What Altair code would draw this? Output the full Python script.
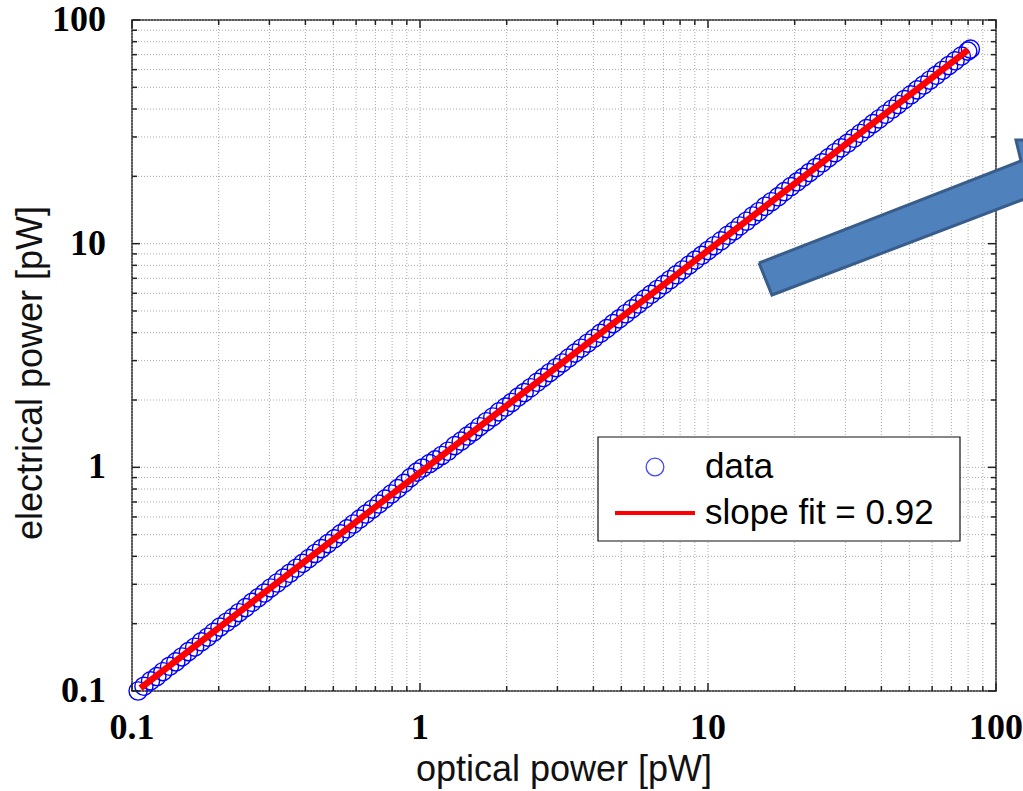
import altair as alt
import pandas as pd

# measured points (optical power, electrical power) in pW
x_data = [0.105, 0.110, 0.116, 0.122, 0.128, 0.135, 0.142, 0.149, 0.157, 0.165,
          0.174, 0.183, 0.192, 0.202, 0.213, 0.224, 0.235, 0.248, 0.261, 0.274,
          0.288, 0.303, 0.319, 0.336, 0.353, 0.372, 0.391, 0.411, 0.433, 0.455,
          0.479, 0.504, 0.530, 0.558, 0.587, 0.617, 0.649, 0.683, 0.719, 0.756,
          0.795, 0.837, 0.880, 0.926, 0.974, 1.02, 1.08, 1.13, 1.19, 1.25,
          1.32, 1.39, 1.46, 1.53, 1.61, 1.70, 1.79, 1.88, 1.98, 2.08,
          2.19, 2.30, 2.42, 2.55, 2.68, 2.82, 2.97, 3.12, 3.28, 3.45,
          3.63, 3.82, 4.02, 4.23, 4.45, 4.68, 4.92, 5.18, 5.45, 5.73,
          6.03, 6.34, 6.67, 7.02, 7.38, 7.77, 8.17, 8.59, 9.04, 9.51,
          10.0, 10.5, 11.1, 11.7, 12.3, 12.9, 13.6, 14.3, 15.0, 15.8,
          16.6, 17.5, 18.4, 19.4, 20.4, 21.4, 22.5, 23.7, 24.9, 26.2,
          27.6, 29.0, 30.5, 32.1, 33.8, 35.5, 37.4, 39.3, 41.3, 43.5,
          45.7, 48.1, 50.6, 53.2, 56.0, 58.9, 62.0, 65.2, 68.5, 72.1,
          75.8, 79.8, 81.5]
y_data = [0.100, 0.105, 0.111, 0.116, 0.122, 0.129, 0.135, 0.142, 0.150, 0.157,
          0.166, 0.174, 0.183, 0.193, 0.203, 0.213, 0.224, 0.236, 0.249, 0.261,
          0.274, 0.289, 0.304, 0.320, 0.336, 0.354, 0.372, 0.391, 0.412, 0.433,
          0.456, 0.479, 0.504, 0.531, 0.558, 0.587, 0.618, 0.650, 0.685, 0.721,
          0.760, 0.803, 0.848, 0.900, 0.952, 0.993, 1.04, 1.08, 1.13, 1.18,
          1.25, 1.31, 1.38, 1.44, 1.52, 1.60, 1.68, 1.77, 1.86, 1.95,
          2.06, 2.16, 2.27, 2.40, 2.52, 2.65, 2.79, 2.93, 3.08, 3.24,
          3.41, 3.59, 3.77, 3.97, 4.17, 4.39, 4.61, 4.86, 5.11, 5.37,
          5.65, 5.94, 6.24, 6.56, 6.90, 7.26, 7.63, 8.02, 8.44, 8.87,
          9.32, 9.79, 10.3, 10.9, 11.4, 12.0, 12.6, 13.3, 13.9, 14.7,
          15.4, 16.2, 17.1, 18.0, 18.9, 19.8, 20.8, 21.9, 23.0, 24.2,
          25.5, 26.8, 28.1, 29.6, 31.1, 32.7, 34.4, 36.1, 37.9, 39.9,
          41.9, 44.1, 46.3, 48.7, 51.2, 53.8, 56.6, 59.5, 62.5, 65.7,
          69.0, 72.6, 74.1]

# slope fit line end points
fit_x = [0.107, 80.0]
fit_y = [0.103, 73.5]

# axis ticks
major_ticks = [0.1, 1, 10, 100]
major_labels = ["0.1", "1", "10", "100"]
minor_ticks = [0.2, 0.3, 0.4, 0.5, 0.6, 0.7, 0.8, 0.9,
               2, 3, 4, 5, 6, 7, 8, 9,
               20, 30, 40, 50, 60, 70, 80, 90]
all_ticks = sorted(major_ticks + minor_ticks)

x_title = "optical power [pW]"
y_title = "electrical power [pW]"
legend_labels = ["data", "slope fit = 0.92"]

# annotation arrow outline (in data units)
arrow_x = [15.03, 122.1, 117.3, 131.0, 131.0, 16.68, 15.03]
arrow_y = [8.196, 23.42, 29.08, 29.08, 16.17, 5.895, 8.196]

W, H = 864, 671
SANS = "Liberation Sans"
SERIF = "Liberation Serif"

pts = pd.DataFrame({"x": x_data, "y": y_data})
fit = pd.DataFrame({"x": fit_x, "y": fit_y})
maj = pd.DataFrame({"v": major_ticks, "lab": major_labels})
mnr = pd.DataFrame({"v": minor_ticks})
grid = pd.DataFrame({"v": all_ticks})
arrow = pd.DataFrame({"x": arrow_x, "y": arrow_y, "i": list(range(len(arrow_x)))})
one = pd.DataFrame({"a": [0]})

xs = alt.Scale(type="log", domain=[0.1, 100], nice=False)
ys = alt.Scale(type="log", domain=[0.1, 100], nice=False)


def X(f):
    return alt.X(f"{f}:Q", scale=xs, axis=None)


def Y(f):
    return alt.Y(f"{f}:Q", scale=ys, axis=None)


grid_style = dict(color="#a8a8a8", strokeWidth=1, strokeDash=[1, 2])
vgrid = alt.Chart(grid).mark_rule(**grid_style).encode(
    x=X("v"), y=alt.value(0), y2=alt.value(H))
hgrid = alt.Chart(grid).mark_rule(**grid_style).encode(
    y=Y("v"), x=alt.value(0), x2=alt.value(W))

points = alt.Chart(pts).mark_point(shape="circle", filled=False, color="#0000ff",
                                   size=330, strokeWidth=1.4, opacity=1).encode(
    x=X("x"), y=Y("y"))

fit_line = alt.Chart(fit).mark_line(color="#ff0000", strokeWidth=6.5).encode(
    x=X("x"), y=Y("y"))

tick_color = "#222"


def xticks(df, ln):
    b = alt.Chart(df).mark_rule(color=tick_color, strokeWidth=1.5).encode(
        x=X("v"), y=alt.value(H), y2=alt.value(H - ln))
    t = alt.Chart(df).mark_rule(color=tick_color, strokeWidth=1.5).encode(
        x=X("v"), y=alt.value(0), y2=alt.value(ln))
    return [b, t]


def yticks(df, ln):
    l = alt.Chart(df).mark_rule(color=tick_color, strokeWidth=1.5).encode(
        y=Y("v"), x=alt.value(0), x2=alt.value(ln))
    r = alt.Chart(df).mark_rule(color=tick_color, strokeWidth=1.5).encode(
        y=Y("v"), x=alt.value(W), x2=alt.value(W - ln))
    return [l, r]


tick_layers = xticks(maj, 8) + xticks(mnr, 5) + yticks(maj, 8) + yticks(mnr, 5)

lab_style = dict(font=SERIF, fontWeight="bold", fontSize=36, color="#000")
xlabels = alt.Chart(maj).mark_text(align="center", baseline="middle", **lab_style).encode(
    x=X("v"), y=alt.value(H + 37), text="lab:N")
ylabels = alt.Chart(maj).mark_text(align="right", baseline="middle", **lab_style).encode(
    y=Y("v"), x=alt.value(-26), text="lab:N")

xtitle = alt.Chart(one).mark_text(align="center", baseline="alphabetic", font=SANS,
                                  fontSize=36, color="#111", text=x_title).encode(
    x=alt.value(W / 2), y=alt.value(H + 90))
ytitle = alt.Chart(one).mark_text(align="center", baseline="alphabetic", font=SANS,
                                  fontSize=36, color="#111", angle=270,
                                  text=y_title).encode(
    x=alt.value(-90), y=alt.value(353))

leg_box = alt.Chart(one).mark_rect(fill="white", stroke="#111", strokeWidth=1.2).encode(
    x=alt.value(466), x2=alt.value(828), y=alt.value(417), y2=alt.value(521))
leg_circle = alt.Chart(one).mark_point(shape="circle", filled=False, color="#4444ff",
                                       size=314, strokeWidth=1.3, opacity=1).encode(
    x=alt.value(523), y=alt.value(447))
leg_line = alt.Chart(one).mark_rule(color="#ff0000", strokeWidth=4).encode(
    x=alt.value(483), x2=alt.value(563), y=alt.value(493))
leg_style = dict(align="left", baseline="middle", font=SANS, fontSize=35, color="#000")
leg_t1 = alt.Chart(one).mark_text(text=legend_labels[0], **leg_style).encode(
    x=alt.value(573), y=alt.value(447))
leg_t2 = alt.Chart(one).mark_text(text=legend_labels[1], **leg_style).encode(
    x=alt.value(573), y=alt.value(493))

arrow_layer = alt.Chart(arrow).mark_line(fill="#4f81bd", stroke="#385d8a",
                                         strokeWidth=3, clip=False,
                                         strokeJoin="miter").encode(
    x=X("x"), y=Y("y"), order=alt.Order("i:Q"))

chart = alt.layer(vgrid, hgrid, points, fit_line, *tick_layers, xlabels, ylabels,
                  xtitle, ytitle, leg_box, leg_circle, leg_line, leg_t1, leg_t2,
                  arrow_layer).properties(
    width=W, height=H,
    autosize=alt.AutoSizeParams(type="none"),
    padding={"left": 132, "top": 20, "right": 27, "bottom": 100},
    background="white",
).configure_view(stroke="#222", strokeWidth=1.5)

chart.save("out.html", embed_options={"renderer": "svg", "actions": False})
